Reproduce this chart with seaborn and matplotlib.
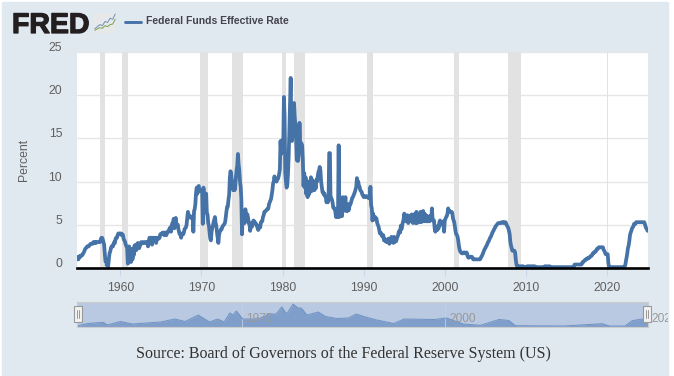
import pandas as pd
import matplotlib
matplotlib.use("Agg")
import matplotlib.pyplot as plt
import matplotlib.dates as mdates
import matplotlib.patheffects as pe
from matplotlib.patches import Rectangle
from matplotlib.transforms import ScaledTranslation
import seaborn as sns

W, H = 674, 376

# monthly readings, Jul 1954 onward
rate_1950s = [1.1, 1.3, 1.1, 1.0, 1.0, 1.3,
              1.4, 1.3, 1.4, 1.5, 1.5, 1.7, 1.8, 2.0, 2.2, 2.3, 2.4, 2.5,
              2.5, 2.5, 2.6, 2.7, 2.8, 2.8, 2.8, 2.8, 3.0, 3.0, 2.9, 3.0,
              2.9, 3.0, 3.0, 3.0, 3.0, 3.0, 3.0, 3.3, 3.5, 3.5, 3.3, 3.0,
              2.7, 1.6, 0.8, 0.9, 0.3, 0.4, 0.2, 1.0, 1.7, 1.9, 2.3, 2.5,
              2.5, 2.5, 2.8, 3.0, 2.9, 3.4, 3.5, 3.5, 3.8, 4.0, 4.0, 4.0]
rate_1960s = [4.0, 4.0, 3.8, 3.9, 3.8, 3.3, 3.2, 3.0, 2.7, 2.5, 2.4, 0.5,
              0.6, 2.5, 0.9, 1.8, 0.7, 2.2, 1.0, 2.2, 1.5, 2.6, 2.0, 2.7,
              2.1, 2.4, 2.9, 2.8, 2.3, 2.7, 2.7, 3.0, 2.9, 2.9, 3.0, 2.9,
              2.9, 3.0, 3.0, 2.9, 3.0, 2.5, 3.0, 3.5, 3.5, 3.5, 3.5, 2.7,
              3.5, 3.5, 3.4, 3.5, 3.5, 2.9, 3.4, 3.5, 3.4, 3.4, 3.5, 3.9,
              3.9, 4.0, 4.0, 4.1, 4.1, 3.8, 4.1, 4.1, 3.8, 4.1, 4.1, 4.3,
              4.4, 4.6, 4.7, 4.2, 4.9, 5.2, 5.3, 5.7, 4.6, 5.6, 5.8, 4.9,
              5.0, 5.0, 4.5, 4.1, 3.9, 4.0, 3.5, 3.9, 4.0, 3.9, 4.1, 4.5,
              4.6, 4.7, 5.0, 5.8, 6.5, 6.1, 6.0, 6.0, 5.8, 5.9, 5.8, 6.0,
              4.2, 6.6, 6.8, 7.4, 8.7, 9.3, 8.6, 9.4, 9.5, 9.0, 8.9, 9.0]
rate_1970s = [8.9, 8.9, 5.1, 9.3, 7.9, 7.6, 7.2, 8.6, 6.3, 6.2, 5.2, 4.9,
              4.1, 3.4, 3.2, 4.2, 4.6, 4.9, 5.3, 5.6, 5.9, 5.2, 4.9, 4.1,
              3.5, 2.9, 3.8, 4.2, 4.3, 4.5, 4.5, 4.8, 4.9, 5.0, 5.1, 5.3,
              5.9, 6.6, 7.1, 7.1, 7.9, 8.5, 10.4, 11.2, 10.8, 10.0, 10.0, 9.0,
              9.6, 9.0, 9.4, 10.5, 11.3, 11.9, 13.2, 12.0, 11.3, 10.0, 9.4, 8.0,
              3.9, 6.2, 5.5, 5.5, 5.2, 6.8, 6.1, 6.1, 6.2, 5.8, 5.2, 5.2,
              4.3, 4.8, 4.8, 4.8, 5.3, 5.5, 5.3, 5.3, 5.2, 5.0, 5.0, 4.6,
              4.4, 4.7, 4.7, 4.7, 5.3, 5.4, 5.4, 5.9, 6.1, 6.5, 6.5, 6.6,
              6.7, 6.8, 6.8, 6.9, 7.4, 7.6, 7.8, 8.0, 8.5, 9.0, 9.8, 10.0,
              10.6, 10.1, 10.1, 10.0, 10.2, 10.3, 10.5, 10.9, 11.4, 14.7, 13.2, 13.8]
rate_1980s = [14.8, 14.1, 19.8, 17.6, 11.0, 10.0, 9.3, 9.6, 10.9, 12.8, 15.9, 18.9,
              22.0, 15.0, 14.7, 15.7, 18.8, 19.1, 17.5, 16.5, 15.0, 12.5, 12.4, 12.4,
              13.2, 16.8, 14.7, 14.4, 14.4, 14.2, 12.6, 9.5, 11.0, 9.3, 10.5, 8.6,
              10.0, 8.2, 10.0, 8.5, 9.8, 8.8, 10.5, 8.9, 10.2, 9.0, 9.8, 9.0,
              9.8, 9.2, 10.2, 10.0, 10.6, 11.1, 11.3, 11.7, 11.3, 10.0, 9.4, 8.8,
              8.8, 8.5, 8.6, 8.3, 8.2, 7.6, 7.9, 7.6, 7.9, 13.3, 13.3, 8.0,
              8.1, 7.9, 7.6, 7.0, 6.9, 6.9, 6.6, 5.9, 6.4, 5.9, 6.2, 14.2,
              5.9, 7.0, 6.2, 7.2, 6.0, 8.2, 6.6, 8.0, 7.2, 8.2, 6.6, 7.2,
              6.6, 7.4, 6.7, 7.2, 7.3, 7.5, 7.8, 8.1, 8.2, 8.4, 8.6, 8.8,
              9.1, 9.4, 10.4, 9.8, 10.0, 9.5, 9.4, 9.0, 8.9, 8.8, 8.5, 8.4]
rate_1990s = [8.2, 8.3, 8.3, 8.3, 8.2, 8.3, 8.2, 8.1, 8.2, 8.1, 9.4, 7.3,
              6.9, 5.5, 6.3, 5.6, 5.8, 5.9, 5.8, 5.7, 5.2, 5.0, 4.8, 4.4,
              4.0, 4.1, 4.0, 3.7, 3.8, 3.8, 3.2, 3.4, 3.1, 3.1, 3.0, 3.3,
              3.0, 3.4, 2.8, 3.4, 3.0, 3.6, 3.0, 3.5, 2.9, 3.6, 3.0, 3.4,
              3.1, 3.4, 3.6, 3.8, 4.2, 4.3, 4.1, 4.9, 4.5, 4.9, 5.3, 5.6,
              6.3, 5.9, 6.0, 5.4, 6.1, 6.1, 5.2, 5.9, 5.7, 6.0, 5.4, 6.2,
              5.4, 5.2, 6.2, 5.3, 6.2, 5.2, 6.5, 5.2, 6.3, 5.3, 6.1, 5.4,
              6.5, 5.3, 6.3, 5.5, 6.6, 5.4, 6.3, 5.5, 6.1, 5.4, 6.0, 5.4,
              5.6, 5.4, 6.0, 5.5, 5.6, 6.9, 5.6, 5.5, 5.5, 4.6, 4.2, 4.8,
              4.8, 4.4, 4.8, 4.6, 5.3, 5.5, 5.0, 5.2, 5.2, 5.2, 5.4, 4.2]
rate_2000s = [5.5, 5.7, 5.9, 6.0, 6.3, 6.9, 6.6, 6.6, 6.5, 6.5, 6.5, 6.4,
              5.8, 5.5, 5.3, 4.8, 4.2, 3.9, 3.8, 3.6, 3.1, 2.5, 2.1, 1.9,
              1.8, 1.7, 1.7, 1.7, 1.8, 1.8, 1.7, 1.7, 1.8, 1.7, 1.3, 1.2,
              1.2, 1.3, 1.3, 1.3, 1.3, 1.2, 1.0, 1.0, 1.0, 1.0, 1.0, 1.0,
              1.0, 1.0, 1.0, 1.0, 1.0, 1.1, 1.3, 1.4, 1.6, 1.8, 2.0, 2.2,
              2.3, 2.5, 2.6, 2.8, 3.0, 3.1, 3.3, 3.5, 3.6, 3.8, 4.0, 4.2,
              4.3, 4.5, 4.6, 4.8, 4.9, 5.0, 5.1, 5.2, 5.2, 5.2, 5.2, 5.2,
              5.3, 5.3, 5.3, 5.2, 5.3, 5.3, 5.3, 5.1, 4.9, 4.8, 4.6, 4.3,
              3.9, 3.0, 2.6, 2.3, 2.0, 2.0, 2.0, 2.0, 1.8, 1.0, 0.4, 0.2,
              0.2, 0.2, 0.2, 0.2, 0.2, 0.2, 0.2, 0.2, 0.2, 0.1, 0.1, 0.1]
rate_2010s = [0.1, 0.1, 0.2, 0.2, 0.2, 0.2, 0.2, 0.2, 0.2, 0.2, 0.2, 0.2,
              0.2, 0.2, 0.1, 0.1, 0.1, 0.1, 0.1, 0.1, 0.1, 0.1, 0.1, 0.1,
              0.1, 0.1, 0.1, 0.1, 0.2, 0.2, 0.2, 0.1, 0.1, 0.2, 0.2, 0.2,
              0.1, 0.1, 0.1, 0.1, 0.1, 0.1, 0.1, 0.1, 0.1, 0.1, 0.1, 0.1,
              0.1, 0.1, 0.1, 0.1, 0.1, 0.1, 0.1, 0.1, 0.1, 0.1, 0.1, 0.1,
              0.1, 0.1, 0.1, 0.1, 0.1, 0.1, 0.1, 0.1, 0.1, 0.1, 0.1, 0.2,
              0.4, 0.4, 0.4, 0.4, 0.4, 0.4, 0.4, 0.4, 0.4, 0.4, 0.4, 0.5,
              0.7, 0.7, 0.8, 0.9, 0.9, 1.0, 1.1, 1.1, 1.1, 1.2, 1.2, 1.3,
              1.4, 1.4, 1.5, 1.7, 1.7, 1.8, 1.9, 1.9, 2.0, 2.2, 2.2, 2.3,
              2.4, 2.4, 2.4, 2.4, 2.4, 2.4, 2.4, 2.1, 2.0, 1.8, 1.6, 1.6]
rate_2020s = [1.6, 1.6, 0.6, 0.1, 0.1, 0.1, 0.1, 0.1, 0.1, 0.1, 0.1, 0.1,
              0.1, 0.1, 0.1, 0.1, 0.1, 0.1, 0.1, 0.1, 0.1, 0.1, 0.1, 0.1,
              0.1, 0.1, 0.2, 0.3, 0.8, 1.2, 1.7, 2.3, 2.6, 3.1, 3.8, 4.1,
              4.3, 4.6, 4.7, 4.8, 5.1, 5.1, 5.1, 5.3, 5.3, 5.3, 5.3, 5.3,
              5.3, 5.3, 5.3, 5.3, 5.3, 5.3, 5.3, 5.3, 5.1, 4.8, 4.6, 4.5,
              4.3]

rates = rate_1950s + rate_1960s + rate_1970s + rate_1980s + rate_1990s + rate_2000s + rate_2010s + rate_2020s

recessions = [("1957-06-20", "1958-03-01"), ("1960-03-10", "1961-01-01"), ("1969-10-15", "1970-10-01"),
              ("1973-10-01", "1975-02-05"), ("1979-11-25", "1980-05-25"), ("1981-05-25", "1982-10-01"),
              ("1990-06-10", "1991-02-05"), ("2001-02-05", "2001-10-01"), ("2007-10-15", "2009-05-05"),
              ("2020-01-01", "2020-02-25")]

y_ticks = [0, 5, 10, 15, 20, 25]
x_years = [1960, 1970, 1980, 1990, 2000, 2010, 2020]

# overview strip at the bottom, smoothed
nav_years = [1954.6, 1956, 1957.9, 1958.4, 1960, 1961.5, 1965, 1966.7, 1968, 1969.6, 1971, 1972,
             1972.8, 1973.5, 1973.9, 1974.3, 1975.1, 1977, 1978.4, 1979.2, 1979.9, 1980.5, 1981.3,
             1981.9, 1982.3, 1983, 1984.4, 1985.3, 1986.7, 1988.1, 1989.1, 1990, 1991.6, 1993.7,
             1995, 1998.7, 2000.2, 2002.3, 2004.4, 2006.7, 2007.9, 2008.7, 2014.7, 2019.4, 2020.3,
             2022.2, 2023.1, 2024.3, 2025.05]
nav_vals = [1, 3.5, 4.7, 2, 5.5, 3, 5, 8, 5.5, 12, 5, 8,
            5, 14, 12, 16, 8, 8, 13, 13, 20, 13, 23,
            19, 19, 12, 15, 10.5, 8.5, 9, 13, 10.5, 7, 3.5,
            8, 7.5, 9, 3, 1.7, 7.5, 6.5, 1.3, 1, 3.3, 1,
            1, 6.3, 8, 8]

# little logo chart
icon_x = [0, 1, 2, 3, 4, 5, 6, 7, 8]
icon_blue = [2, 4, 6, 5, 9, 8, 12, 11, 16]
icon_green = [0.5, 2, 3, 2.5, 5, 4, 6, 6.5, 11]

df = pd.DataFrame({"date": pd.date_range("1954-07-01", periods=len(rates), freq="MS"), "rate": rates})

sns.set_theme(style="white")
plt.rcParams["font.family"] = ["Liberation Sans", "DejaVu Sans"]
plt.rcParams["path.simplify"] = False  # keep the one-month spikes


def box(x0, y0, x1, y1):
    # pixel box, top-left origin -> figure fractions
    return [x0 / W, 1 - y1 / H, (x1 - x0) / W, (y1 - y0) / H]


fig = plt.figure(figsize=(W / 100, H / 100), dpi=100, facecolor="white")
panel = Rectangle((2 / W, 0), 666 / W, 1 - 2 / H, transform=fig.transFigure, color="#e1e9f0", zorder=-5)
fig.add_artist(panel)

ax = fig.add_axes(box(77, 52, 648, 268), facecolor="white")
for start, end in recessions:
    ax.axvspan(pd.Timestamp(start), pd.Timestamp(end), color="#e2e2e2", lw=0, zorder=1)
ax.set_yticks(y_ticks)
ax.grid(axis="y", color="#e6e6e6", lw=1)
ax.set_axisbelow(True)
sns.lineplot(data=df, x="date", y="rate", ax=ax, color="#4572a7", lw=2.7, zorder=3)
ax.set_xlim(pd.Timestamp("1954-08-28"), pd.Timestamp("2025-01-20"))
ax.set_ylim(0, 25)
ax.set_xlabel("")
ax.set_ylabel("")
ax.set_xticks([pd.Timestamp(f"{y}-01-01") for y in x_years])
ax.xaxis.set_major_formatter(mdates.DateFormatter("%Y"))
ax.tick_params(axis="x", length=6, width=0.8, color="#ccd6eb", labelsize=8.8, labelcolor="#606060", pad=4, bottom=True)
ax.tick_params(axis="y", length=0, labelsize=8.8, labelcolor="#606060", pad=10.7)
down = ScaledTranslation(0, -1.5 / 72, fig.dpi_scale_trans)
for lab in ax.get_yticklabels():
    lab.set_va("bottom")
    lab.set_transform(lab.get_transform() + down)
for name in ["top", "left", "right"]:
    ax.spines[name].set_visible(False)
ax.spines["bottom"].set_color("black")
ax.spines["bottom"].set_linewidth(1.9)
ax.spines["bottom"].set_zorder(5)

fig.text(24 / W, 1 - 160 / H, "Percent", rotation=90, ha="center", va="center", fontsize=8.8, color="#606060")

# overview strip
nav = fig.add_axes(box(77, 302, 648, 327), facecolor="#b9c9e1")
nav.axvline(1975, color="#c4d0e4", lw=0.6)
nav.axvline(2000, color="#c4d0e4", lw=0.6)
nav.fill_between(nav_years, nav_vals, color="#7f9fca", lw=0)
sns.lineplot(x=nav_years, y=nav_vals, ax=nav, color="#6f92c4", lw=0.7)
nav.set_xlim(1954.66, 2025.05)
nav.set_ylim(0, 25)
nav.set_xticks([])
nav.set_yticks([])
nav.set_xlabel("")
nav.set_ylabel("")
for name in nav.spines:
    nav.spines[name].set_color("#cccccc")
    nav.spines[name].set_linewidth(0.8)
fig.text(246 / W, 1 - 319 / H, "1975", fontsize=8.6, color="#999999", va="center")
fig.text(449 / W, 1 - 319 / H, "2000", fontsize=8.6, color="#999999", va="center")
t = fig.text(651 / W, 1 - 319 / H, "2025", fontsize=8.6, color="#999999", va="center")
t.set_clip_path(Rectangle((0, 0), 668, H, transform=None))

for hx in [73.5, 643]:
    fig.add_artist(Rectangle((hx / W, 1 - 322 / H), 8 / W, 16 / H, transform=fig.transFigure,
                             facecolor="#f2f2f2", edgecolor="#999999", lw=0.8))
    for dx in [3, 5]:
        fig.add_artist(plt.Line2D([(hx + dx) / W] * 2, [1 - 318 / H, 1 - 310 / H], color="#888888", lw=0.6))

# header
logo = fig.text(12 / W, 1 - 33 / H, "FRED", fontsize=20.5, fontweight="bold", color="#231f20", va="baseline")
logo.set_path_effects([pe.withStroke(linewidth=0.9, foreground="#231f20")])
icon = fig.add_axes(box(94, 13, 116, 33), facecolor="#e6e8e9")
sns.lineplot(x=icon_x, y=icon_blue, ax=icon, color="#6d93b8", lw=0.7)
sns.lineplot(x=icon_x, y=icon_green, ax=icon, color="#7fa04c", lw=0.7)
icon.set_xlim(-0.3, 8.3)
icon.set_ylim(-2, 17)
icon.set_xticks([])
icon.set_yticks([])
icon.set_xlabel("")
icon.set_ylabel("")
for name in icon.spines:
    icon.spines[name].set_visible(False)

fig.add_artist(plt.Line2D([125 / W, 141 / W], [1 - 21.5 / H] * 2, color="#4572a7", lw=2.1))
fig.text(146.5 / W, 1 - 21.5 / H, "Federal Funds Effective Rate", fontsize=7.45, fontweight="bold",
         color="#444450", va="center")

fig.text(343 / W, 1 - 354 / H, "Source: Board of Governors of the Federal Reserve System (US)",
         family="Liberation Serif", fontsize=11.55, color="#333333", ha="center", va="center")

fig.savefig("out.png", dpi=100, facecolor=fig.get_facecolor())
